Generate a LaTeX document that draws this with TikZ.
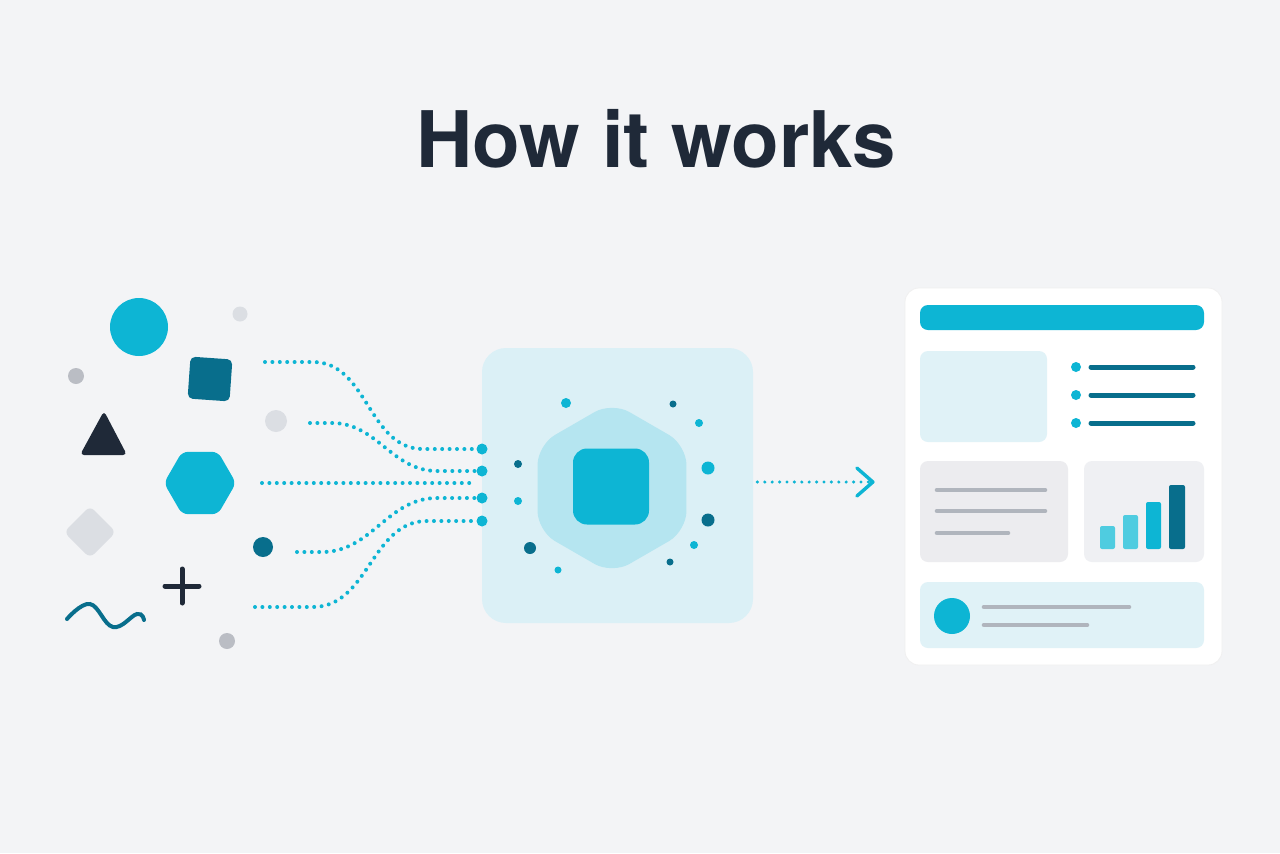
\documentclass[tikz,border=0pt]{standalone}
\usepackage{fontspec}
\setmainfont{TeX Gyre Heros}
\usetikzlibrary{arrows.meta,calc,positioning,shapes.geometric}
\definecolor{fondo}{rgb}{0.953,0.957,0.965}
\definecolor{cian}{rgb}{0.05,0.71,0.83}
\definecolor{cianclaro}{rgb}{0.31,0.80,0.88}
\definecolor{petroleo}{rgb}{0.03,0.43,0.55}
\definecolor{tinta}{rgb}{0.12,0.16,0.22}
\definecolor{grisclaro}{rgb}{0.86,0.87,0.89}
\definecolor{grismedio}{rgb}{0.73,0.74,0.77}
\definecolor{grislinea}{rgb}{0.69,0.71,0.74}
\definecolor{hielo}{rgb}{0.86,0.94,0.965}
\definecolor{hielohex}{rgb}{0.71,0.90,0.94}
\definecolor{panelazul}{rgb}{0.88,0.95,0.97}
\definecolor{panelgris}{rgb}{0.925,0.925,0.937}
\definecolor{panelchart}{rgb}{0.937,0.941,0.953}
\tikzset{
  punto/.style={
    circle,
    inner sep=0pt,
    minimum size=#1
  },
  puerto/.style={
    punto=5.5pt,
    fill=cian
  },
  flujo/.style={
    draw=cian,
    line width=2pt,
    line cap=round,
    dash pattern=on 0pt off 3.7pt
  },
  flecha/.style={
    flujo,
    line width=1.7pt,
    -{Straight Barb[length=8pt,width=14pt,line cap=round,line join=round]}
  },
  hubbox/.style={
    rounded corners=12pt,
    fill=hielo,
    minimum width=135.5pt,
    minimum height=137.5pt,
    inner sep=0pt
  },
  hexa/.style={
    regular polygon,
    regular polygon sides=6,
    rounded corners=10pt,
    inner sep=0pt
  },
  tarjeta/.style={
    rounded corners=7pt,
    fill=white,
    draw=black!6,
    minimum width=158.5pt,
    minimum height=188.5pt,
    inner sep=0pt
  },
  bloque/.style={
    rounded corners=4pt,
    inner sep=0pt
  },
  raya/.style={
    line width=2.5pt,
    line cap=round
  }
}

\begin{document}
\begin{tikzpicture}[x=0.5pt,y=-0.5pt]
\fill[fondo] (0,0) rectangle (1280,853);
\useasboundingbox (0,0) rectangle (1280,853);
\node[font=\bfseries\fontsize{39}{45}\selectfont, text=tinta, anchor=base] (title) at (656,167) {How it works};
\node[punto=29pt, fill=cian] (bigdot) at (139,327) {};
\node[punto=7.5pt, fill=grisclaro] (g1) at (240,314) {};
\node[punto=8pt, fill=grismedio] (g2) at (76,376) {};
\node[bloque, rounded corners=2.5pt, fill=petroleo, minimum size=21pt, rotate=-4] (sq) at (210,379) {};
\node[punto=11pt, fill=grisclaro] (g3) at (276,421) {};
\fill[tinta, rounded corners=2pt] (104,411) -- (127,455) -- (80,455) -- cycle;
\node[hexa, rounded corners=3pt, fill=cian, minimum size=36pt] (hexleft) at (200,483) {};
\fill[grisclaro, rounded corners=3pt] (90,506) -- (116,532) -- (90,558) -- (64,532) -- cycle;
\node[punto=10pt, fill=petroleo] (g4) at (263,547) {};
\draw[tinta, raya] (165,586) -- (199,586) (182,569) -- (182,603);
\draw[petroleo, line width=2pt, line cap=round] plot[smooth, tension=0.7] coordinates {(67,619) (90,604) (113,627) (137,614) (144,620)};
\node[punto=8pt, fill=grismedio] (g5) at (227,641) {};
\node[hubbox] (hub) at (617.5,485.5) {};
\node[hexa, fill=hielohex, minimum size=86pt, shape border rotate=30] (core) at (612,488) {};
\node[bloque, rounded corners=7pt, fill=cian, minimum size=38pt] (chip) at (611,486.5) {};
\foreach \x/\y/\s/\c [count=\i] in {566/403/5/cian, 673/404/3.5/petroleo, 699/423/4/cian, 518/464/4/petroleo, 708/468/6.5/cian, 518/501/4/cian, 708/520/6.5/petroleo, 530/548/6/petroleo, 694/545/4/cian, 670/562/3.5/petroleo, 558/570/3.5/cian}
  \node[punto=\s pt, fill=\c] (d\i) at (\x,\y) {};
\foreach \y [count=\i] in {449,471,498,521}
  \node[puerto] (p\i) at (482,\y) {};
\coordinate (s1) at (265,362);
\coordinate (s2) at (310,423);
\coordinate (s3) at (262,483);
\coordinate (s4) at (297,552);
\coordinate (s5) at (255,607);
\coordinate (m3) at (472,483);
\draw[flujo] (s1) -- ++(48,0) to[out=0,in=180] ($(p1)+(-59,0)$) -- (p1);
\draw[flujo] (s2) -- ++(22,0) to[out=0,in=180] ($(p2)+(-45,0)$) -- (p2);
\draw[flujo] (s3) -- (m3);
\draw[flujo] (s4) -- ++(25,0) to[out=0,in=180] ($(p3)+(-45,0)$) -- (p3);
\draw[flujo] (s5) -- ++(58,0) to[out=0,in=180] ($(p4)+(-55,0)$) -- (p4);
\node[tarjeta] (card) at (1063.5,476.5) {};
\draw[flecha, shorten <=2pt, shorten >=15pt] ($(hub.east)+(0,-3.5)$) -- ($(card.west)+(0,5.5)$);
\node[bloque, fill=cian, minimum width=142pt, minimum height=12.5pt] (head) at (1062,317.5) {};
\node[bloque, fill=panelazul, minimum width=63.5pt, minimum height=45.5pt] (pic) at (983.5,396.5) {};
\foreach \y [count=\i] in {367,395,423} {
  \node[punto=5pt, fill=cian] (b\i) at (1076,\y) {};
  \draw[petroleo, raya] (1091,\y) -- (1193,\y);
}
\node[bloque, fill=panelgris, minimum width=74pt, minimum height=50.5pt] (texto) at (994,511.5) {};
\draw[grislinea, raya, line width=2.3pt] (937,490) -- (1045,490) (937,511) -- (1045,511) (937,533) -- (1008,533);
\node[bloque, fill=panelchart, minimum width=60pt, minimum height=50.5pt] (chart) at (1144,511.5) {};
\fill[cianclaro, rounded corners=1pt] (1100,549) rectangle (1115,526);
\fill[cianclaro, rounded corners=1pt] (1123,549) rectangle (1138,515);
\fill[cian, rounded corners=1pt] (1146,549) rectangle (1161,502);
\fill[petroleo, rounded corners=1pt] (1169,549) rectangle (1185,485);
\node[bloque, fill=panelazul, minimum width=142pt, minimum height=33pt] (perfil) at (1062,615) {};
\node[punto=18pt, fill=cian] (avatar) at (952,616) {};
\draw[grislinea, raya, line width=2.3pt] (984,607) -- (1129,607) (984,625) -- (1087,625);
\end{tikzpicture}
\end{document}
